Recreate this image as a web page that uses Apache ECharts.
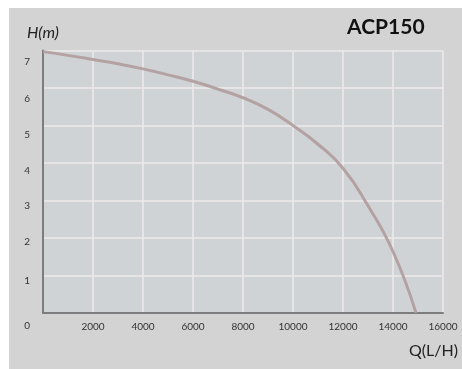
<!DOCTYPE html>
<html>
<head>
<meta charset="utf-8">
<script src="https://cdn.jsdelivr.net/npm/echarts@6/dist/echarts.min.js"></script>
<style>
html,body{margin:0;padding:0;background:#ffffff;width:462px;height:369px;overflow:hidden;}
#chart{position:absolute;left:9px;top:8px;width:453px;height:361px;}
</style>
</head>
<body>
<div id="chart"></div>
<script>
// Data
const flowQ = [0, 1000, 2000, 3000, 4000, 5000, 6000, 7000, 8000, 9000, 10000, 11000, 12000, 13000, 14000, 14920];
const headH = [6.97, 6.87, 6.76, 6.645, 6.51, 6.35, 6.18, 5.97, 5.74, 5.43, 5.0, 4.50, 3.86, 2.86, 1.64, 0];
const xTicks = [0, 2000, 4000, 6000, 8000, 10000, 12000, 14000, 16000];
const yTicks = [0, 1, 2, 3, 4, 5, 6, 7];
const modelName = 'ACP150';
const yTitle = 'H(m)';
const xTitle = 'Q(L/H)';

const seriesData = flowQ.map((q, i) => [q, headH[i]]);
const fontFam = 'Lato, "Noto Sans", sans-serif';

// per-label vertical offsets (style only)
const yOffsets = {0: 26, 1: 11, 2: 8, 3: 10, 4: 16, 5: 19, 6: 22, 7: 23};
const yRich = {};
yTicks.forEach(v => {
  yRich['a' + v] = {padding: [yOffsets[v], 0, 0, 0], fontSize: 10, color: '#333', fontFamily: fontFam};
});

const chart = echarts.init(document.getElementById('chart'), null, {renderer: 'canvas'});
chart.setOption({
  backgroundColor: '#d3d3d4',
  animation: false,
  title: {
    text: modelName,
    left: 333, top: 4,
    textStyle: {fontSize: 21, fontWeight: 'bold', color: '#111', fontFamily: fontFam}
  },
  grid: {
    left: 34, top: 42.5, right: 19, bottom: 56,
    show: true, backgroundColor: '#cfd3d6', borderWidth: 0
  },
  xAxis: {
    type: 'value', min: 0, max: 16000, interval: 2000,
    name: xTitle, nameLocation: 'end', nameGap: 15,
    nameTextStyle: {fontSize: 16, color: '#222', fontFamily: fontFam, align: 'right', verticalAlign: 'top', padding: [30, 0, 0, 0]},
    axisLine: {show: true, lineStyle: {color: '#7d7d80', width: 2}},
    axisTick: {show: false},
    axisLabel: {
      fontSize: 10, color: '#333', fontFamily: fontFam, margin: 9,
      formatter: v => (v === 0 ? '' : String(v))
    },
    splitLine: {show: true, lineStyle: {color: '#eeeaea', width: 1.5}}
  },
  yAxis: {
    type: 'value', min: 0, max: 7, interval: 1,
    name: yTitle, nameLocation: 'end', nameGap: 10,
    nameTextStyle: {fontSize: 16, fontStyle: 'italic', color: '#222', fontFamily: fontFam, align: 'center'},
    axisLine: {show: true, lineStyle: {color: '#7d7d80', width: 2}},
    axisTick: {show: false},
    axisLabel: {
      margin: 13, verticalAlign: 'middle',
      formatter: v => '{a' + v + '|' + v + '}',
      rich: yRich
    },
    splitLine: {show: true, lineStyle: {color: '#eeeaea', width: 1.5}}
  },
  series: [{
    type: 'line',
    data: seriesData,
    smooth: 0.5,
    showSymbol: false,
    lineStyle: {color: '#b09c9c', width: 3, opacity: 0.9},
    z: 5
  }]
});
</script>
</body>
</html>
